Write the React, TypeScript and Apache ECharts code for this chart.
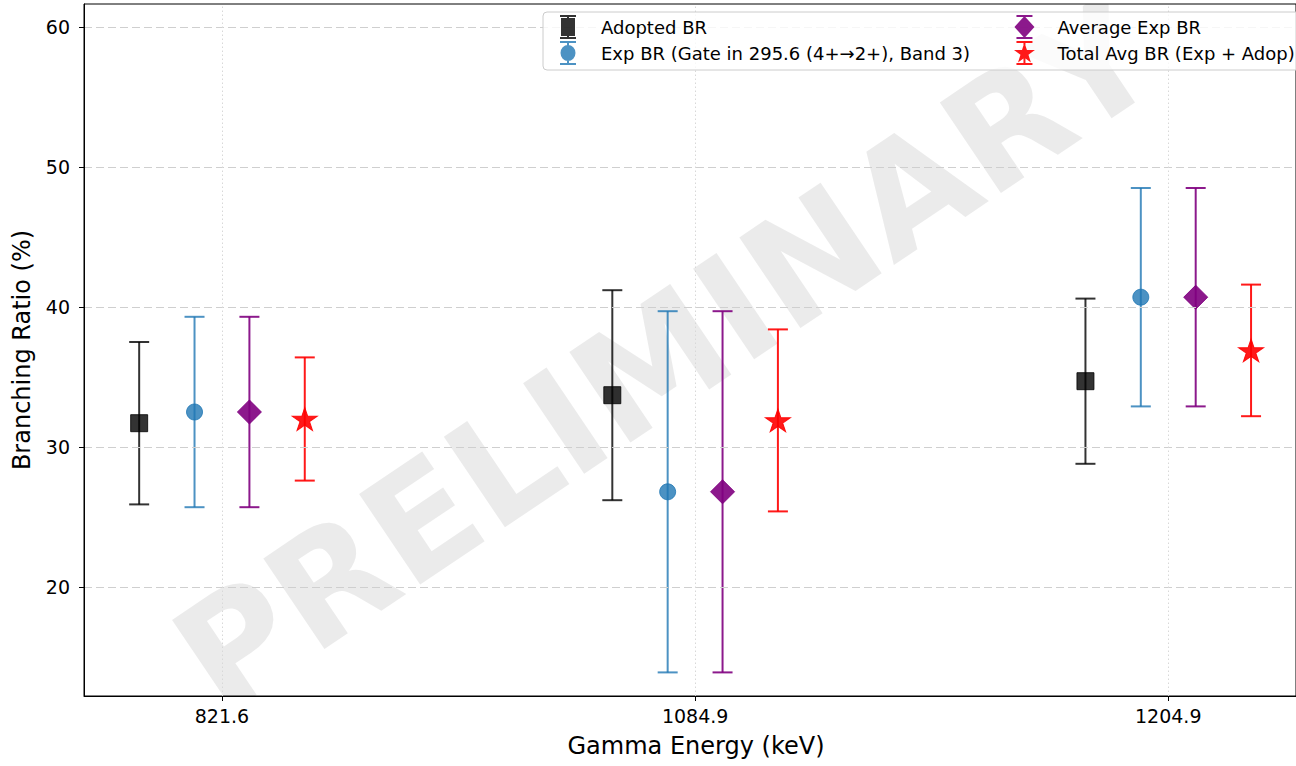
import React, { useEffect, useRef } from "react";
import * as echarts from "echarts";

// ---- data ----
const energies = ["821.6", "1084.9", "1204.9"];
const adoptedBR = [31.7, 33.7, 34.7];
const adoptedErr = [5.8, 7.5, 5.9];
const expBR = [32.5, 26.8, 40.7];
const expErr = [6.8, 12.9, 7.8];
const avgExpBR = [32.5, 26.8, 40.7];
const avgExpErr = [6.8, 12.9, 7.8];
const totalBR = [32.0, 31.9, 36.9];
const totalErr = [4.4, 6.5, 4.7];
const yTicks = [20, 30, 40, 50, 60];
const xTicks = [0, 1, 2];
const seriesNames = [
  "Adopted BR",
  "Exp BR (Gate in 295.6 (4+\u21922+), Band 3)",
  "Average Exp BR",
  "Total Avg BR (Exp + Adop)",
];

const offsets = [-0.175, -0.058, 0.058, 0.175];
const FONT = "DejaVu Sans";

const starPath =
  "path://M0 -10L2.245 -3.09L9.511 -3.09L3.633 1.18L5.878 8.09L0 3.82L-5.878 8.09L-3.633 1.18L-9.511 -3.09L-2.245 -3.09Z";
const bars = "M4 0H20V2H4Z M11 0H13V24H11Z M4 22H20V24H4Z ";
const icons = [
  "path://" + bars + "M5 3H19V21H5Z",
  "path://" + bars + "M12 4A7.5 8 0 1 1 12 20A7.5 8 0 1 1 12 4Z",
  "path://" + bars + "M12 1L22 12L12 23L2 12Z",
  "path://" +
    bars +
    "M12 1.5L14.47 9.1L22.46 9.1L16 13.8L18.47 21.4L12 16.7L5.53 21.4L8 13.8L1.54 9.1L9.53 9.1Z",
];

const colors = [
  "rgba(0,0,0,0.8)",
  "rgba(31,119,180,0.8)",
  "rgba(128,0,128,0.9)",
  "rgba(255,0,0,0.9)",
];
const symbols = ["rect", "circle", "diamond", starPath];
const symbolSizes: any[] = [17, 16, [24, 24], [25, 24]];

const values = [adoptedBR, expBR, avgExpBR, totalBR];
const errors = [adoptedErr, expErr, avgExpErr, totalErr];

export default function App() {
  const ref = useRef<HTMLDivElement>(null);
  useEffect(() => {
    if (!ref.current) return;
    const chart = echarts.init(ref.current, null, { renderer: "svg" });

    const errSeries = values.map((vals, i) => ({
      type: "custom",
      z: 2,
      silent: true,
      data: vals.map((v, k) => [k + offsets[i], v - errors[i][k], v + errors[i][k]]),
      renderItem: (params: any, api: any) => {
        const x = api.value(0);
        const p1 = api.coord([x, api.value(1)]);
        const p2 = api.coord([x, api.value(2)]);
        const hw = 10;
        const style = { stroke: colors[i], lineWidth: 2, fill: "none" };
        return {
          type: "group",
          children: [
            { type: "line", shape: { x1: p1[0], y1: p1[1], x2: p2[0], y2: p2[1] }, style },
            { type: "line", shape: { x1: p1[0] - hw, y1: p1[1], x2: p1[0] + hw, y2: p1[1] }, style },
            { type: "line", shape: { x1: p2[0] - hw, y1: p2[1], x2: p2[0] + hw, y2: p2[1] }, style },
          ],
        };
      },
    }));

    const markerSeries = values.map((vals, i) => ({
      type: "scatter",
      name: seriesNames[i],
      z: 3,
      symbol: symbols[i],
      symbolSize: symbolSizes[i],
      symbolKeepAspect: true,
      itemStyle: { color: colors[i], borderColor: colors[i], borderWidth: 1, opacity: 1 },
      emphasis: { disabled: true },
      data: vals.map((v, k) => [k + offsets[i], v]),
    }));

    const gridSeries = {
      type: "scatter",
      z: 1,
      silent: true,
      data: [],
      markLine: {
        silent: true,
        symbol: ["none", "none"],
        label: { show: false },
        emphasis: { disabled: true },
        data: [
          ...yTicks.map((v) => ({
            yAxis: v,
            lineStyle: { type: [8, 4], color: "#cfcfcf", width: 1 },
          })),
          ...xTicks.map((v) => ({
            xAxis: v,
            lineStyle: { type: [1.5, 2.5], color: "#d8d8d8", width: 1 },
          })),
        ],
      },
    };

    const legendText = { fontSize: 18, fontFamily: FONT, color: "#000" };
    const legendCommon = {
      top: 10,
      orient: "vertical",
      itemWidth: 56,
      itemHeight: 24,
      itemGap: 2,
      selectedMode: false,
      symbolKeepAspect: true,
      textStyle: legendText,
      z: 7,
    };

    chart.setOption({
      animation: false,
      textStyle: { fontFamily: FONT },
      grid: {
        left: 84,
        right: -2,
        top: 4,
        bottom: 70,
        show: true,
        z: 5,
        borderColor: "#000",
        borderWidth: 1,
        backgroundColor: "transparent",
      },
      xAxis: {
        type: "value",
        z: 5,
        min: -0.2916,
        max: 2.27,
        name: "Gamma Energy (keV)",
        nameLocation: "middle",
        nameGap: 38,
        nameTextStyle: { fontSize: 24, color: "#000", fontFamily: FONT, padding: [0, 0, 0, 12] },
        axisLine: { show: true, onZero: false, lineStyle: { color: "#000", width: 1 } },
        axisTick: { show: true, customValues: xTicks, length: 5, lineStyle: { color: "#000" } },
        axisLabel: {
          customValues: xTicks,
          formatter: (v: number) => energies[Math.round(v)],
          fontSize: 19,
          color: "#000",
          margin: 10,
          fontFamily: FONT,
        },
        splitLine: { show: false },
      },
      yAxis: {
        type: "value",
        z: 5,
        min: 12.214,
        max: 61.643,
        name: "Branching Ratio (%)",
        nameLocation: "middle",
        nameGap: 50,
        nameTextStyle: { fontSize: 24, color: "#000", fontFamily: FONT },
        axisLine: { show: true, onZero: false, lineStyle: { color: "#000", width: 1 } },
        axisTick: { show: true, customValues: yTicks, length: 5, lineStyle: { color: "#000" } },
        axisLabel: {
          customValues: yTicks,
          fontSize: 19,
          color: "#000",
          margin: 14,
          fontFamily: FONT,
        },
        splitLine: { show: false },
      },
      legend: [
        {
          ...legendCommon,
          left: 555,
          data: [0, 1].map((i) => ({
            name: seriesNames[i],
            icon: icons[i],
            itemStyle: { color: colors[i], borderWidth: 0 },
          })),
        },
        {
          ...legendCommon,
          left: 1009,
          data: [2, 3].map((i) => ({
            name: seriesNames[i],
            icon: icons[i],
            itemStyle: { color: colors[i], borderWidth: 0 },
          })),
        },
      ],
      graphic: [
        {
          type: "text",
          x: 666,
          y: 356,
          rotation: (34 * Math.PI) / 180,
          z: 0,
          silent: true,
          style: {
            text: "PRELIMINARY",
            fontSize: 150,
            fontWeight: "bold",
            fontFamily: FONT,
            fill: "rgba(128,128,128,0.16)",
            align: "center",
            verticalAlign: "middle",
          },
        },
        // mask the watermark outside the plotting area
        {
          type: "rect",
          z: 1,
          silent: true,
          shape: { x: 0, y: 697, width: 1296, height: 69 },
          style: { fill: "#ffffff" },
        },
        {
          type: "rect",
          z: 1,
          silent: true,
          shape: { x: 0, y: 0, width: 1296, height: 4 },
          style: { fill: "#ffffff" },
        },
        {
          type: "rect",
          z: 6,
          silent: true,
          shape: { x: 543, y: 12, width: 800, height: 58, r: 4 },
          style: { fill: "rgba(255,255,255,0.8)", stroke: "#cccccc", lineWidth: 1 },
        },
      ],
      series: [gridSeries, ...errSeries, ...markerSeries],
    });
    return () => chart.dispose();
  }, []);
  return (
    <div
      ref={ref}
      style={{ position: "absolute", left: 0, top: 0, width: 1296, height: 766 }}
    />
  );
}
